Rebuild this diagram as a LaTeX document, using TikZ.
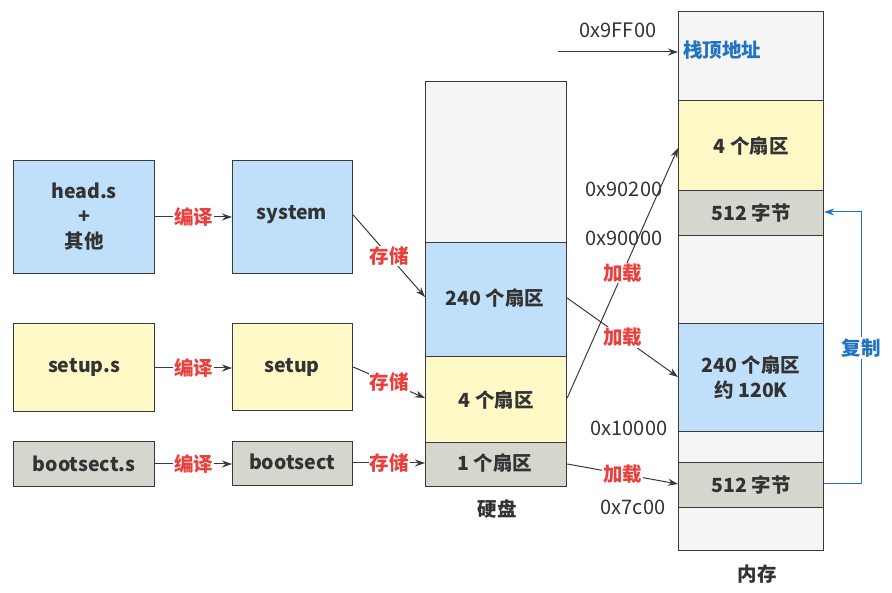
\documentclass[tikz,border=0pt]{standalone}
\usepackage{fontspec}
\setmainfont{Noto Sans CJK SC}
\usetikzlibrary{arrows.meta}
\definecolor{cblue}{HTML}{C0DFFA}
\definecolor{cyel}{HTML}{FFF9C8}
\definecolor{cgray}{HTML}{D6D6CF}
\definecolor{cwhite}{HTML}{F5F5F5}
\definecolor{cline}{HTML}{3A3A3A}
\definecolor{cred}{HTML}{E8403C}
\definecolor{ctblue}{HTML}{1F73C0}
\definecolor{ctext}{HTML}{333333}
\newcommand{\bigb}{\fontsize{19.5}{25}\selectfont\bfseries}
\tikzset{
  box/.style={draw=cline, line width=1.2pt, anchor=north west, inner sep=0pt, align=center,
    font=\bigb, text=ctext},
  txt/.style={font=\bigb, text=ctext},
  lbl/.style={font=\bigb, text=cred, fill=white, inner sep=1pt},
  hex/.style={font=\fontsize{20}{24}\selectfont, text=ctext, inner sep=0pt},
  arr/.style={draw=cline, line width=1pt, -{Stealth[length=10pt,width=7pt]}},
}
\begin{document}
\begin{tikzpicture}[x=1pt,y=-1pt]
\useasboundingbox (0,0) rectangle (892,593);
% left column
\node[box, fill=cblue, minimum width=141pt, minimum height=113pt] (head) at (13,160) {head.s\\+\\其他};
\node[box, fill=cyel, minimum width=141pt, minimum height=88pt] (setups) at (13,323) {setup.s};
\node[box, fill=cgray, minimum width=141pt, minimum height=45pt] (boots) at (13,441) {bootsect.s};
% middle column
\node[box, fill=cblue, minimum width=120pt, minimum height=113pt] (system) at (232,160) {};
\node[txt] at (292,215) {system};
\node[box, fill=cyel, minimum width=120pt, minimum height=87pt] (setup) at (232,323) {};
\node[txt] at (292,367) {setup};
\node[box, fill=cgray, minimum width=120pt, minimum height=44pt] (boot) at (232,441) {};
\node[txt] at (292,462) {bootsect};
% disk
\node[box, fill=cwhite, minimum width=141pt, minimum height=161pt] (dtop) at (425,81) {};
\node[box, fill=cblue, minimum width=141pt, minimum height=114pt] (d240) at (425,242) {};
\node[txt] at (495,298) {240 个扇区};
\node[box, fill=cyel, minimum width=141pt, minimum height=86pt] (d4) at (425,356) {4 个扇区};
\node[box, fill=cgray, minimum width=141pt, minimum height=44pt] (d1) at (425,442) {};
\node[txt] at (495,463) {1 个扇区};
\node[txt] (disk) at (497,509) {硬盘};
% memory
\node[box, fill=cwhite, minimum width=145pt, minimum height=89pt] (m0) at (678,11) {};
\node[txt, text=ctblue, anchor=west, inner sep=0pt] (stack) at (683,50) {栈顶地址};
\node[box, fill=cyel, minimum width=145pt, minimum height=90pt] (m4) at (678,100) {4 个扇区};
\node[box, fill=cgray, minimum width=145pt, minimum height=45pt] (m512a) at (678,190) {512 字节};
\node[box, fill=cwhite, minimum width=145pt, minimum height=88pt] (m1) at (678,235) {};
\node[box, fill=cblue, minimum width=145pt, minimum height=108pt] (m240) at (678,323) {240 个扇区\\约 120K};
\node[box, fill=cwhite, minimum width=145pt, minimum height=31pt] (m2) at (678,431) {};
\node[box, fill=cgray, minimum width=145pt, minimum height=45pt] (m512b) at (678,462) {512 字节};
\node[box, fill=cwhite, minimum width=145pt, minimum height=43pt] (m3) at (678,507) {};
\node[txt] (mem) at (757,574) {内存};
% hex labels
\node[hex] (h9ff) at (618,30) {0x9FF00};
\node[hex] (h902) at (624,189) {0x90200};
\node[hex] (h900) at (624,238) {0x90000};
\node[hex] (h100) at (629,428) {0x10000};
\node[hex] (h7c) at (633,507) {0x7c00};
\coordinate (sp) at (558,52);
\draw[arr] (sp) -- (m0.west |- sp);
% compile arrows
\draw[arr] (head.east |- 0,217) -- node[lbl]{编译} (system.west |- 0,217);
\draw[arr] (setups.east |- 0,368) -- node[lbl]{编译} (setup.west |- 0,368);
\draw[arr] (boots.east |- 0,464) -- node[lbl]{编译} (boot.west |- 0,464);
% store arrows
\draw[arr] (system.east |- 0,215) -- node[lbl]{存储} (d240.west |- 0,297);
\draw[arr] (setup.east |- 0,367) -- node[lbl]{存储} (d4.west |- 0,398);
\draw[arr] (boot.east |- 0,463) -- node[lbl]{存储} (d1.west |- 0,463);
% load arrows
\draw[arr] (d4.east |- 0,398) -- node[lbl, pos=0.5]{加载} (m4.west |- 0,148);
\draw[arr] (d240.east |- 0,298) -- node[lbl]{加载} (m240.west |- 0,377);
\draw[arr] (d1.east |- 0,464) -- node[lbl]{加载} (m512b.west |- 0,484);
% copy
\coordinate (c1) at (861,484);
\coordinate (c2) at (861,212);
\draw[draw=ctblue, line width=1pt, -{Stealth[length=10pt,width=7pt]}] (m512b.east |- c1) -- (c1) -- node[font=\bigb, text=ctblue, fill=white, inner sep=2pt, pos=0.5]{复制} (c2) -- (m512a.east |- c2);
\end{tikzpicture}
\end{document}
